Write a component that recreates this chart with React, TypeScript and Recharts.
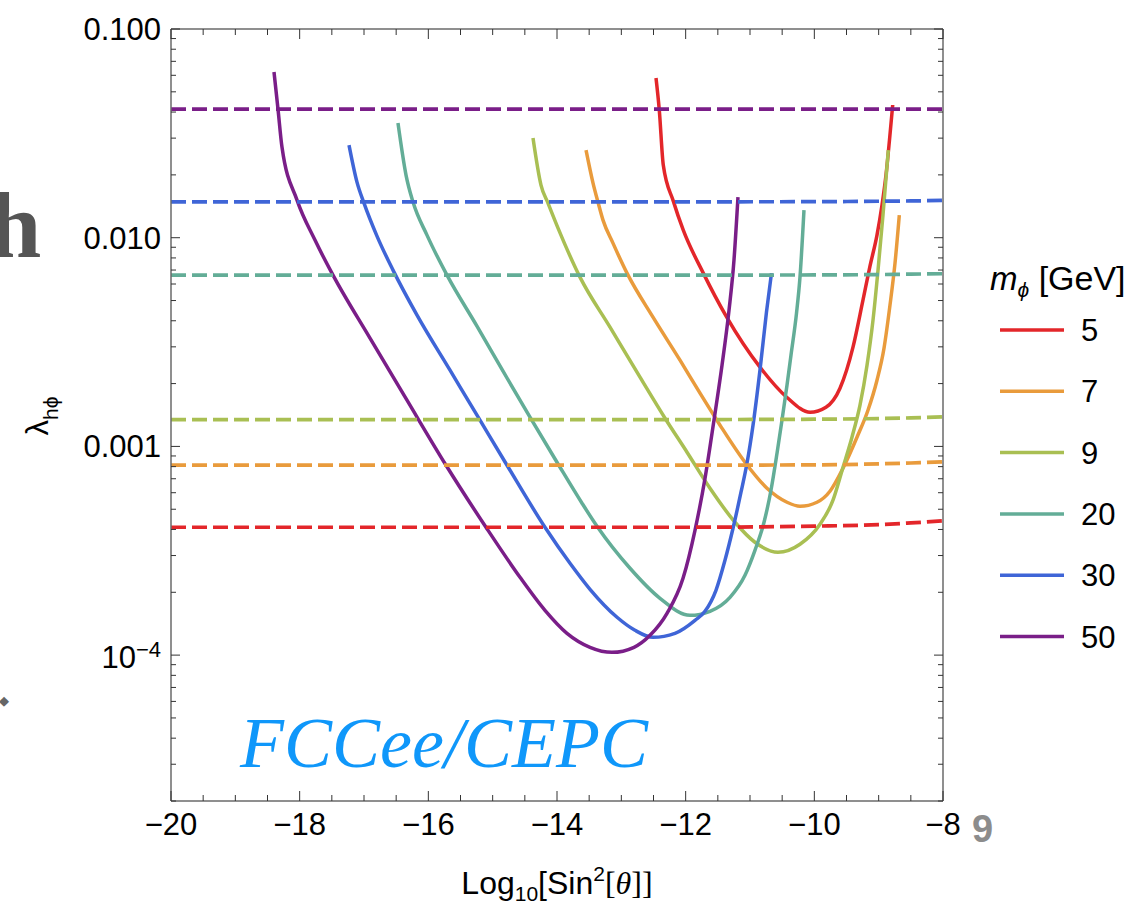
import { LineChart, Line, XAxis, YAxis } from "recharts"

const masses = ["5", "7", "9", "20", "30", "50"]
const colors = ["#e3262a", "#e99b3c", "#a9bf53", "#63ad97", "#3f65d7", "#7a1e88"]

// solid curves: [Log10 sin^2 theta, lambda_h phi]
const curve5 = [
    [-12.461, 0.05822], [-12.41, 0.0409], [-12.348, 0.02228], [-12.192, 0.01497], [-12.037, 0.01087],
    [-11.726, 0.006765], [-11.362, 0.004162], [-10.845, 0.002397], [-10.429, 0.001721], [-10.067, 0.001458],
    [-9.819, 0.001541], [-9.601, 0.001901], [-9.399, 0.002989], [-9.244, 0.005022], [-9.135, 0.007307],
    [-9.026, 0.01029], [-8.948, 0.01433], [-8.886, 0.01996], [-8.832, 0.02937], [-8.782, 0.04322],
]
const curve7 = [
    [-13.549, 0.0263], [-13.44, 0.01827], [-13.363, 0.01481], [-13.285, 0.01214], [-13.13, 0.00942],
    [-12.912, 0.006765], [-12.508, 0.004162], [-12.088, 0.002589], [-11.777, 0.001799], [-11.466, 0.001264],
    [-11.078, 0.0008398], [-10.736, 0.0006303], [-10.425, 0.0005401], [-10.223, 0.0005167], [-9.959, 0.0005401],
    [-9.757, 0.0006098], [-9.554, 0.0007862], [-9.337, 0.001107], [-9.166, 0.001491], [-9.026, 0.002076],
    [-8.917, 0.002956], [-8.824, 0.004753], [-8.746, 0.007553], [-8.679, 0.01283],
]
const curve9 = [
    [-14.373, 0.03002], [-14.249, 0.01787], [-14.14, 0.01465], [-13.984, 0.01112], [-13.643, 0.006472],
    [-13.176, 0.003727], [-12.71, 0.002146], [-12.321, 0.001365], [-11.979, 0.000938], [-11.622, 0.0006303],
    [-11.233, 0.0004331], [-10.923, 0.0003473], [-10.565, 0.000311], [-10.223, 0.0003397], [-9.912, 0.0004236],
    [-9.71, 0.0005522], [-9.554, 0.000795], [-9.415, 0.001107], [-9.29, 0.001576], [-9.181, 0.00245],
    [-9.088, 0.004027], [-9.01, 0.006993], [-8.933, 0.01283], [-8.85, 0.0263],
]
const curve20 = [
    [-16.472, 0.03543], [-16.347, 0.01996], [-16.238, 0.01481], [-16.021, 0.01029], [-15.71, 0.006617],
    [-15.244, 0.003769], [-14.839, 0.002293], [-14.42, 0.00138], [-14.0, 0.0008398], [-13.611, 0.0005342],
    [-13.378, 0.0004144], [-12.865, 0.0002607], [-12.399, 0.0001872], [-11.933, 0.0001551], [-11.622, 0.0001622],
    [-11.311, 0.0001892], [-11.078, 0.0002413], [-10.923, 0.0003178], [-10.782, 0.0004331], [-10.674, 0.0006165],
    [-10.58, 0.0009277], [-10.503, 0.001335], [-10.425, 0.001965], [-10.363, 0.002736], [-10.277, 0.00435],
    [-10.223, 0.006472], [-10.161, 0.01356],
]
const curve30 = [
    [-17.233, 0.02779], [-17.109, 0.01847], [-17.0, 0.01465], [-16.798, 0.01018], [-16.549, 0.006993],
    [-16.176, 0.004255], [-15.663, 0.002318], [-15.197, 0.001335], [-14.777, 0.0008124], [-14.187, 0.0004099],
    [-13.798, 0.0002754], [-13.487, 0.0002067], [-13.067, 0.0001518], [-12.788, 0.0001315], [-12.508, 0.0001217],
    [-12.166, 0.0001272], [-11.855, 0.0001468], [-11.7, 0.0001622], [-11.529, 0.0002045], [-11.389, 0.0002847],
    [-11.264, 0.0004053], [-11.14, 0.0006032], [-11.047, 0.0008306], [-10.953, 0.001264], [-10.845, 0.002318],
    [-10.744, 0.004398], [-10.666, 0.006765],
]
const curve50 = [
    [-18.399, 0.0622], [-18.337, 0.04136], [-18.275, 0.02719], [-18.041, 0.01514], [-17.762, 0.009739],
    [-17.482, 0.006617], [-16.907, 0.003302], [-16.332, 0.001665], [-15.725, 0.0008124], [-15.104, 0.0004099],
    [-14.575, 0.000236], [-14.187, 0.0001639], [-13.845, 0.0001272], [-13.487, 0.000109], [-13.145, 0.0001031],
    [-12.803, 0.000109], [-12.554, 0.0001244], [-12.29, 0.0001586], [-12.041, 0.0002334], [-11.855, 0.0003965],
    [-11.699, 0.000704], [-11.56, 0.001335], [-11.435, 0.00245], [-11.326, 0.004497], [-11.249, 0.007808],
    [-11.187, 0.01565],
]

// dashed limits, same x grid for all masses
const dashX = [-20, -12, -10, -9, -8.5, -8]
const dash5 = [4.1e-4, 4.1e-4, 4.15e-4, 4.22e-4, 4.3e-4, 4.4e-4]
const dash7 = [8.13e-4, 8.13e-4, 8.16e-4, 8.25e-4, 8.33e-4, 8.43e-4]
const dash9 = [1.345e-3, 1.345e-3, 1.35e-3, 1.36e-3, 1.37e-3, 1.385e-3]
const dash20 = [6.62e-3, 6.62e-3, 6.63e-3, 6.66e-3, 6.69e-3, 6.72e-3]
const dash30 = [0.01486, 0.01486, 0.01488, 0.01495, 0.015, 0.0151]
const dash50 = [0.0413, 0.0413, 0.0413, 0.0413, 0.0413, 0.0413]

const xTicks = [
    -20, -19.5, -19, -18.5, -18, -17.5, -17, -16.5, -16, -15.5, -15, -14.5, -14,
    -13.5, -13, -12.5, -12, -11.5, -11, -10.5, -10, -9.5, -9, -8.5, -8,
]
const xLabeled = [-20, -18, -16, -14, -12, -10, -8]
const yMajor = [1e-4, 1e-3, 1e-2, 1e-1]
const yLabels = ["10|-4", "0.001", "0.010", "0.100"]
const yMinor = [
    2e-5, 3e-5, 4e-5, 5e-5, 6e-5, 7e-5, 8e-5, 9e-5,
    2e-4, 3e-4, 4e-4, 5e-4, 6e-4, 7e-4, 8e-4, 9e-4,
    2e-3, 3e-3, 4e-3, 5e-3, 6e-3, 7e-3, 8e-3, 9e-3,
    0.02, 0.03, 0.04, 0.05, 0.06, 0.07, 0.08, 0.09,
]
const yTicks = [...yMinor, ...yMajor].sort((a, b) => a - b)

const curves = [curve5, curve7, curve9, curve20, curve30, curve50]
const dashes = [dash5, dash7, dash9, dash20, dash30, dash50]

const FONT = "'Liberation Sans', Arial, Helvetica, sans-serif"
const SERIF = "'Liberation Serif', 'Times New Roman', serif"
const TICK = "#333"
const FRAME = { stroke: "#6a6a6a", strokeWidth: 1.5 }

const majorIndex = (v: number) => yMajor.findIndex((m) => Math.abs(v / m - 1) < 1e-6)
const fmtX = (v: number) => (v < 0 ? "\u2212" + Math.abs(v) : String(v))

function BottomTick({ x, y, payload }: any) {
    const major = xLabeled.includes(payload.value)
    return (
        <g>
            <line x1={x} x2={x} y1={y} y2={y - (major ? 10 : 6)} stroke={TICK} />
            {major && (
                <text x={x} y={y + 34} textAnchor="middle" fontSize={31} fontFamily={FONT} fill="#000">
                    {fmtX(payload.value)}
                </text>
            )}
        </g>
    )
}

function TopTick({ x, y, payload }: any) {
    const major = xLabeled.includes(payload.value)
    return <line x1={x} x2={x} y1={y} y2={y + (major ? 10 : 6)} stroke={TICK} />
}

function LeftTick({ x, y, payload }: any) {
    const i = majorIndex(payload.value)
    const label = i >= 0 ? yLabels[i] : null
    return (
        <g>
            <line x1={x} x2={x + (i >= 0 ? 9 : 5)} y1={y} y2={y} stroke={TICK} />
            {label && label.includes("|") ? (
                <text x={x - 10} y={y + 13} textAnchor="end" fontSize={31} fontFamily={FONT} fill="#000">
                    {label.split("|")[0]}
                    <tspan fontSize={22} dy={-11}>{label.split("|")[1].replace("-", "\u2212")}</tspan>
                </text>
            ) : label ? (
                <text x={x - 10} y={y + 11} textAnchor="end" fontSize={31} fontFamily={FONT} fill="#000">
                    {label}
                </text>
            ) : null}
        </g>
    )
}

function RightTick({ x, y, payload }: any) {
    const major = majorIndex(payload.value) >= 0
    return <line x1={x} x2={x - (major ? 9 : 5)} y1={y} y2={y} stroke={TICK} />
}

function XLabel({ viewBox }: any) {
    return (
        <text x={viewBox.x + viewBox.width / 2} y={viewBox.y + 93} textAnchor="middle" fontSize={32} fontFamily={FONT} fill="#000">
            Log
            <tspan fontSize={21} dy={7}>10</tspan>
            <tspan dy={-7}>[Sin</tspan>
            <tspan fontSize={21} dy={-13}>2</tspan>
            <tspan dy={13} fontFamily={SERIF}>[</tspan>
            <tspan fontFamily={SERIF} fontStyle="italic">θ</tspan>
            <tspan fontFamily={SERIF}>]]</tspan>
        </text>
    )
}

function YLabel({ viewBox }: any) {
    return (
        <g transform={`translate(${viewBox.x - 23}, ${viewBox.y + viewBox.height / 2 + 1}) rotate(-90)`}>
            <text x={0} y={0} textAnchor="middle" fontSize={31} fontFamily={FONT} fill="#000">
                λ
                <tspan fontSize={21} dy={10}>hϕ</tspan>
            </text>
        </g>
    )
}

export default function App() {
    return (
        <div style={{ position: "absolute", left: 0, top: 0, width: 1134, height: 908, background: "#fff" }}>
            <LineChart width={1134} height={908} margin={{ top: 19, right: 181, bottom: 57, left: 71 }}>
                <XAxis
                    xAxisId="bottom"
                    dataKey="x"
                    type="number"
                    domain={[-20, -8]}
                    allowDataOverflow
                    ticks={xTicks}
                    interval={0}
                    height={50}
                    tickSize={0}
                    tickMargin={0}
                    tickLine={false}
                    axisLine={FRAME}
                    tick={BottomTick}
                    label={XLabel}
                />
                <XAxis
                    xAxisId="top"
                    orientation="top"
                    dataKey="x"
                    type="number"
                    domain={[-20, -8]}
                    allowDataOverflow
                    ticks={xTicks}
                    interval={0}
                    height={10}
                    tickSize={0}
                    tickMargin={0}
                    tickLine={false}
                    axisLine={FRAME}
                    tick={TopTick}
                />
                <YAxis
                    yAxisId="left"
                    type="number"
                    scale="log"
                    domain={[2e-5, 0.1]}
                    allowDataOverflow
                    ticks={yTicks}
                    interval={0}
                    width={100}
                    tickSize={0}
                    tickMargin={0}
                    tickLine={false}
                    axisLine={FRAME}
                    tick={LeftTick}
                    label={YLabel}
                />
                <YAxis
                    yAxisId="right"
                    orientation="right"
                    type="number"
                    scale="log"
                    domain={[2e-5, 0.1]}
                    allowDataOverflow
                    ticks={yTicks}
                    interval={0}
                    width={10}
                    tickSize={0}
                    tickMargin={0}
                    tickLine={false}
                    axisLine={FRAME}
                    tick={RightTick}
                />
                {curves.map((c, i) => (
                    <Line
                        key={"c" + masses[i]}
                        data={c.map(([x, y]) => ({ x, y }))}
                        dataKey="y"
                        xAxisId="bottom"
                        yAxisId="left"
                        type="monotone"
                        stroke={colors[i]}
                        strokeWidth={3.5}
                        dot={false}
                        activeDot={false}
                        isAnimationActive={false}
                    />
                ))}
                {dashes.map((d, i) => (
                    <Line
                        key={"d" + masses[i]}
                        data={d.map((y, j) => ({ x: dashX[j], y }))}
                        dataKey="y"
                        xAxisId="bottom"
                        yAxisId="left"
                        type="monotone"
                        stroke={colors[i]}
                        strokeWidth={3.7}
                        strokeDasharray="15 6"
                        dot={false}
                        activeDot={false}
                        isAnimationActive={false}
                    />
                ))}
            </LineChart>
            <svg width={1134} height={908} style={{ position: "absolute", left: 0, top: 0, pointerEvents: "none" }}>
                <text x={240} y={767} fontSize={72} fontFamily={SERIF} fontStyle="italic" fill="#0f97fa">
                    FCCee/CEPC
                </text>
                <text x={990} y={290} fontSize={33} fontFamily={FONT} fill="#000">
                    <tspan fontStyle="italic">m</tspan>
                    <tspan fontSize={21} dy={7} fontStyle="italic">ϕ</tspan>
                    <tspan dy={-7} fontSize={34}> [GeV]</tspan>
                </text>
                {masses.map((m, i) => {
                    const cy = 330 + i * 61.3
                    return (
                        <g key={"lg" + m}>
                            <line x1={1000} x2={1064} y1={cy} y2={cy} stroke={colors[i]} strokeWidth={3.5} />
                            <text x={1081} y={cy + 11} fontSize={31} fontFamily={FONT} fill="#000">
                                {m}
                            </text>
                        </g>
                    )
                })}
                <text x={-11} y={257} fontSize={94} fontFamily={SERIF} fontWeight="bold" fill="#555">
                    h
                </text>
                <text x={4} y={705} fontSize={13} fontFamily="'DejaVu Sans', sans-serif" textAnchor="middle" fill="#666">
                    ◆
                </text>
                <text x={972} y={842} fontSize={38} fontFamily={FONT} fontWeight="bold" fill="#8c8c8c">
                    9
                </text>
            </svg>
        </div>
    )
}
